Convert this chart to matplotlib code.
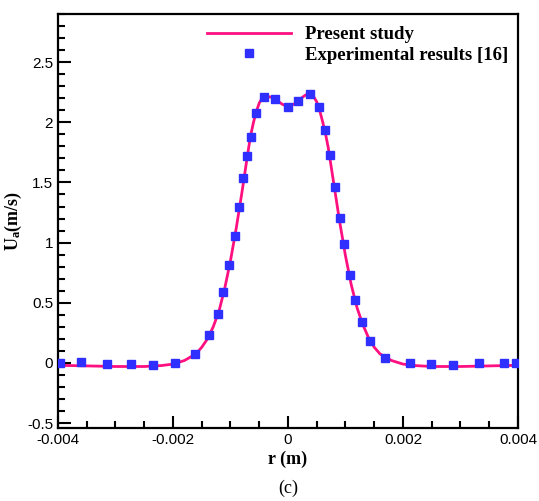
import matplotlib
matplotlib.use("Agg")
import matplotlib.pyplot as plt
from matplotlib.ticker import MultipleLocator, FuncFormatter

# --- DATA ---
# experimental points
exp_r = [-0.003957, -0.003592, -0.003146, -0.002730, -0.002348, -0.001966,
         -0.001619, -0.001376, -0.001220, -0.001133, -0.001029, -0.000925,
         -0.000856, -0.000786, -0.000717, -0.000647, -0.000555, -0.000416,
         -0.000226, -0.000005, 0.000168, 0.000377, 0.000533, 0.000637,
         0.000724, 0.000810, 0.000902, 0.000967, 0.001071, 0.001163,
         0.001284, 0.001435, 0.001695, 0.002129, 0.002494, 0.002876,
         0.003327, 0.003761, 0.003962]
exp_u = [0.0, 0.008, -0.006, -0.006, -0.014, 0.003,
         0.078, 0.228, 0.403, 0.586, 0.811, 1.053,
         1.294, 1.536, 1.717, 1.878, 2.081, 2.211,
         2.194, 2.127, 2.177, 2.236, 2.127, 1.936,
         1.728, 1.461, 1.203, 0.986, 0.728, 0.525,
         0.344, 0.178, 0.044, 0.003, -0.006, -0.017,
         0.003, 0.003, 0.003]

# present study curve
sim_r = [-0.0040, -0.0035, -0.0030, -0.0025, -0.0022, -0.0020, -0.0018,
         -0.0016, -0.0015, -0.0014, -0.0013, -0.0012, -0.0011, -0.0010,
         -0.0009, -0.0008, -0.0007, -0.00065, -0.0006, -0.00055, -0.0005,
         -0.00045, -0.0004, -0.0003, -0.0002, -0.0001, 0.0, 0.0001, 0.0002,
         0.0003, 0.00035, 0.0004, 0.00045, 0.0005, 0.00055, 0.0006, 0.00065,
         0.0007, 0.0008, 0.0009, 0.0010, 0.0011, 0.0012, 0.0013, 0.0014,
         0.0015, 0.0016, 0.0018, 0.0020, 0.0022, 0.0025, 0.0030, 0.0035,
         0.0040]
sim_u = [-0.020, -0.025, -0.030, -0.030, -0.022, -0.010, 0.020,
         0.075, 0.130, 0.200, 0.300, 0.430, 0.620, 0.850,
         1.120, 1.420, 1.740, 1.890, 2.000, 2.090, 2.160,
         2.200, 2.215, 2.210, 2.185, 2.150, 2.130, 2.150, 2.190,
         2.225, 2.235, 2.230, 2.210, 2.170, 2.100, 2.010, 1.910,
         1.790, 1.480, 1.170, 0.890, 0.650, 0.460, 0.320, 0.210,
         0.130, 0.075, 0.020, -0.010, -0.022, -0.030, -0.030, -0.025,
         -0.020]

SERIF = ["Liberation Serif", "DejaVu Serif"]
SANS = ["Liberation Sans", "DejaVu Sans"]

plt.rcParams["mathtext.fontset"] = "custom"
plt.rcParams["mathtext.rm"] = "Liberation Serif"
plt.rcParams["mathtext.bf"] = "Liberation Serif:bold"
plt.rcParams["mathtext.it"] = "Liberation Serif:italic"

fig = plt.figure(figsize=(5.39, 5.01), dpi=100)
ax = fig.add_axes([0.1076, 0.146, 0.8534, 0.826])

ax.plot(sim_r, sim_u, color="#ff1080", lw=2.0, label="Present study", zorder=2)
ax.plot(exp_r, exp_u, ls="none", marker="s", ms=5.8, color="#2f2fff",
        mec="#2f2fff", label="Experimental results [16]", zorder=3)

ax.set_xlim(-0.004, 0.004)
ax.set_ylim(-0.54, 2.9)

ax.xaxis.set_major_locator(MultipleLocator(0.002))
ax.xaxis.set_minor_locator(MultipleLocator(0.0005))
ax.yaxis.set_major_locator(MultipleLocator(0.5))
ax.yaxis.set_minor_locator(MultipleLocator(0.1))


def fmt(v, pos):
    s = f"{v:g}"
    if abs(v) < 1e-12:
        s = "0"
    return s


ax.xaxis.set_major_formatter(FuncFormatter(fmt))
ax.yaxis.set_major_formatter(FuncFormatter(fmt))

ax.tick_params(which="both", direction="in", top=False, right=False, width=1.5)
ax.tick_params(which="major", length=9, labelsize=11)
ax.tick_params(which="minor", length=5)
for lab in ax.get_xticklabels() + ax.get_yticklabels():
    lab.set_fontfamily(SANS)
for sp in ax.spines.values():
    sp.set_linewidth(1.6)

ax.set_xlabel("r (m)", family=SERIF, fontweight="bold", fontsize=13, labelpad=3)
ax.set_ylabel(r"U$_{\mathbf{a}}$(m/s)", family=SERIF, fontweight="bold",
              fontsize=13, labelpad=2)

leg = ax.legend(loc="upper left", bbox_to_anchor=(0.324, 0.971), frameon=False,
                handlelength=4.5, handletextpad=0.75, numpoints=1,
                labelspacing=0.2, borderaxespad=0, borderpad=0,
                prop={"family": SERIF, "weight": "bold", "size": 13.5})

fig.text(0.534, 0.016, "(c)", family=SERIF, fontsize=13, ha="center")

fig.savefig("out.png", dpi=100)
